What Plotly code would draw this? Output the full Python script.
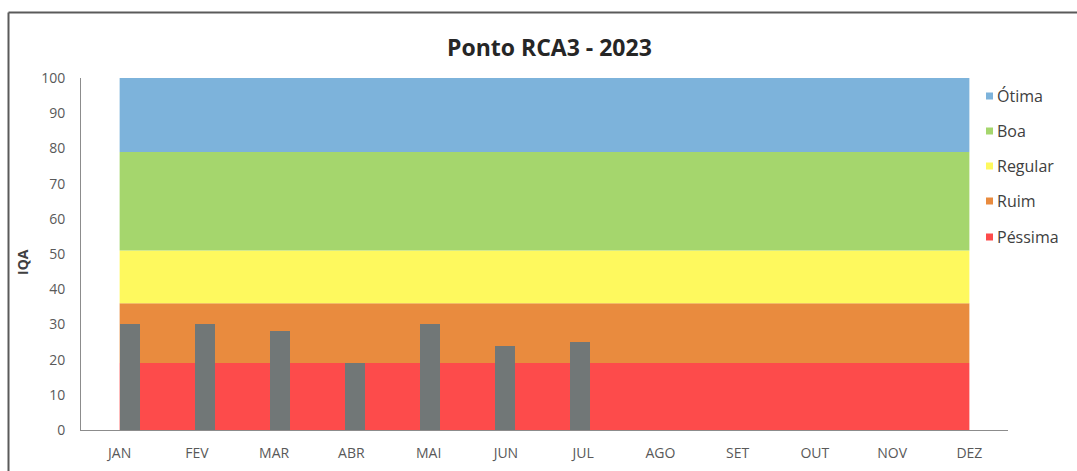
import plotly.graph_objects as go

# Monthly IQA readings for station RCA3 (2023)
months = ["JAN", "FEV", "MAR", "ABR", "MAI", "JUN", "JUL", "AGO", "SET", "OUT", "NOV", "DEZ"]
iqa_values = [30, 30, 28, 19, 30, 24, 25, None, None, None, None, None]

# Quality classes (lower and upper IQA limits)
class_names = ["Péssima", "Ruim", "Regular", "Boa", "Ótima"]
class_lower = [0, 19, 36, 51, 79]
class_upper = [19, 36, 51, 79, 100]
class_colors = ["#FD4B4B", "#E98B3E", "#FEF95E", "#A5D66D", "#7DB3DB"]

BAR_COLOR = "#717777"
FONT = "Open Sans"

fig = go.Figure()

# Background bands spanning JAN..DEZ, drawn as filled areas
x_idx = list(range(len(months)))
for name, lo, hi, col in zip(class_names, class_lower, class_upper, class_colors):
    fig.add_trace(go.Scatter(
        x=[x_idx[0], x_idx[-1], x_idx[-1], x_idx[0], x_idx[0]],
        y=[lo, lo, hi, hi, lo],
        fill="toself", fillcolor=col, mode="none",
        name=name, showlegend=False, hoverinfo="skip",
    ))

# Monthly IQA bars on their own category scale
fig.add_trace(go.Bar(
    x=x_idx, y=iqa_values, xaxis="x2",
    marker=dict(color=BAR_COLOR, line=dict(width=0)),
    width=0.267, showlegend=False, name="IQA",
))

fig.update_layout(
    width=1077, height=471,
    margin=dict(l=81, r=69, t=78, b=41),
    paper_bgcolor="white", plot_bgcolor="white",
    font=dict(family=FONT, color="#595959", size=14),
    xaxis=dict(
        range=[-0.5, 11.5], tickmode="array", tickvals=x_idx, ticktext=months,
        showgrid=False, zeroline=False, showline=True, linecolor="#8C8C8C",
        linewidth=1, ticks="", ticklabelstandoff=10, automargin=False,
        tickfont=dict(size=14, color="#595959"),
    ),
    xaxis2=dict(
        overlaying="x", range=[-0.653, 11.707], visible=False,
    ),
    yaxis=dict(
        range=[0, 100], tickmode="linear", tick0=0, dtick=10,
        showgrid=False, zeroline=False, showline=True, linecolor="#8C8C8C",
        linewidth=1, ticks="", ticklabelstandoff=12, automargin=False,
        tickfont=dict(size=14, color="#595959"),
    ),
    bargap=0,
)

# Plot-area geometry helpers (pixel -> paper)
PL, PR, PT, PB = 81, 1008, 78, 430

def px_x(px):
    return (px - PL) / (PR - PL)

def px_y(py):
    return (PB - py) / (PB - PT)

annotations = [
    dict(text="<b>Ponto RCA3 - 2023</b>", x=px_x(549), y=px_y(47),
         xref="paper", yref="paper", showarrow=False,
         font=dict(size=23, color="#262626", family=FONT),
         xanchor="center", yanchor="middle"),
    dict(text="<b>IQA</b>", x=px_x(22), y=px_y(262), xref="paper", yref="paper",
         showarrow=False, textangle=-90,
         font=dict(size=14, color="#404040", family=FONT),
         xanchor="center", yanchor="middle"),
]

shapes = [
    # chart frame (top and left edges visible)
    dict(type="line", xref="paper", yref="paper",
         x0=px_x(8.5), y0=px_y(12.5), x1=px_x(1090), y1=px_y(12.5),
         line=dict(color="#5A5A5A", width=2)),
    dict(type="line", xref="paper", yref="paper",
         x0=px_x(8.5), y0=px_y(12.5), x1=px_x(8.5), y1=px_y(480),
         line=dict(color="#5A5A5A", width=2)),
]

# Legend: top to bottom from best to worst class
legend_y = [96, 131, 166, 201, 237]
for (name, col), ly in zip(reversed(list(zip(class_names, class_colors))), legend_y):
    shapes.append(dict(type="rect", xref="paper", yref="paper",
                       x0=px_x(986), x1=px_x(993), y0=px_y(ly + 3.5), y1=px_y(ly - 3.5),
                       fillcolor=col, line=dict(width=0)))
    annotations.append(dict(text=name, x=px_x(995), y=px_y(ly), xref="paper", yref="paper",
                            showarrow=False, xanchor="left", yanchor="middle",
                            font=dict(size=16, color="#404040", family=FONT)))

fig.update_layout(annotations=annotations, shapes=shapes)

fig.write_html("out.html")
